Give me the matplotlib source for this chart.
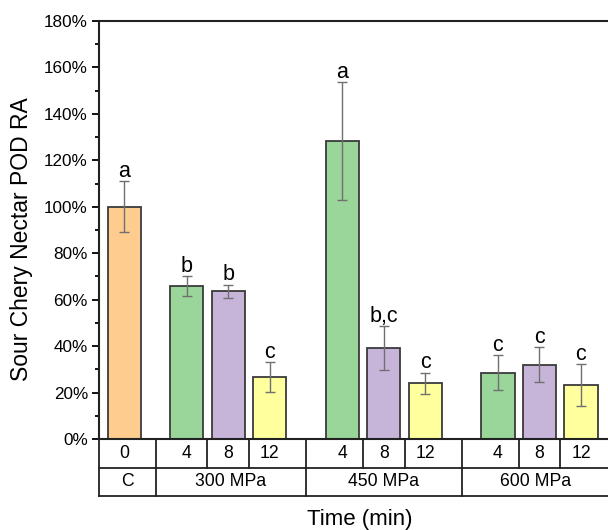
import matplotlib
matplotlib.use("Agg")
import matplotlib.pyplot as plt
from matplotlib.ticker import MultipleLocator, PercentFormatter
import numpy as np

plt.rcParams['font.family'] = ['Liberation Sans', 'DejaVu Sans']

# data
times = ["0", "4", "8", "12", "4", "8", "12", "4", "8", "12"]
groups = ["C", "300 MPa", "450 MPa", "600 MPa"]
group_sizes = [1, 3, 3, 3]
ra_values = [100.0, 65.9, 63.7, 26.7, 128.3, 39.2, 24.0, 28.6, 32.0, 23.1]
ra_errors = [11.0, 4.2, 2.8, 6.4, 25.3, 9.4, 4.6, 7.7, 7.5, 9.0]
letters = ["a", "b", "b", "c", "a", "b,c", "c", "c", "c", "c"]
time_colors = {"0": "#FFCC90", "4": "#9AD59A", "8": "#C6B5D8", "12": "#FFFF9E"}

# bar slots: control, then three groups of three
positions = np.array([0, 1.5, 2.5, 3.5, 5.25, 6.25, 7.25, 9, 10, 11])
xmin, xmax = -0.614, 11.7

fig = plt.figure(figsize=(6.08, 5.30), dpi=100)
ax = fig.add_axes([99 / 608, 1 - 439 / 530, 511 / 608, 418 / 530])

colors = [time_colors[t] for t in times]
ax.bar(positions, ra_values, width=0.8, color=colors, edgecolor="#3a3a3a",
       linewidth=1.3, zorder=2)
ax.errorbar(positions, ra_values, yerr=ra_errors, fmt="none", ecolor="#707070",
            elinewidth=1.0, capsize=3.6, capthick=1.0, zorder=3)

for x, v, e, lab in zip(positions, ra_values, ra_errors, letters):
    ax.annotate(lab, (x, v + e), xytext=(0, 3), textcoords="offset points",
                ha="center", va="baseline", fontsize=15.5)

ax.set_xlim(xmin, xmax)
ax.set_ylim(0, 180)
ax.yaxis.set_major_locator(MultipleLocator(20))
ax.yaxis.set_minor_locator(MultipleLocator(10))
ax.yaxis.set_major_formatter(PercentFormatter(decimals=0))
ax.tick_params(axis="y", which="major", length=5, width=1.3, labelsize=12.3, pad=3)
ax.tick_params(axis="y", which="minor", length=3, width=1.3)
ax.set_xticks([])
for side in ["left", "top", "bottom"]:
    ax.spines[side].set_linewidth(1.5)
    ax.spines[side].set_color("#222222")
ax.spines["right"].set_visible(False)

# two-row table under the axis
trans = ax.get_xaxis_transform()
row_h = 28.5 / 418
line_kw = dict(color="#222222", lw=1.3, transform=trans, clip_on=False)
bounds = (positions[:-1] + positions[1:]) / 2
for y in [-row_h, -2 * row_h]:
    ax.plot([xmin, xmax], [y, y], **line_kw)
ax.plot([xmin, xmin], [0, -2 * row_h], **line_kw)
for b in bounds:
    ax.plot([b, b], [0, -row_h], **line_kw)
ends = np.cumsum(group_sizes)
group_bounds = [bounds[e - 1] for e in ends[:-1]]
for b in group_bounds:
    ax.plot([b, b], [-row_h, -2 * row_h], **line_kw)

for x, t in zip(positions, times):
    ax.text(x, -row_h / 2, t, transform=trans, ha="center", va="center", fontsize=12.7)
edges = [xmin] + group_bounds + [xmax]
for i, g in enumerate(groups):
    ax.text((edges[i] + edges[i + 1]) / 2, -1.5 * row_h, g, transform=trans,
            ha="center", va="center", fontsize=12.7)

fig.text(22 / 608, 1 - 239 / 530, "Sour Chery Nectar POD RA", rotation=90,
         ha="center", va="center", fontsize=16.5)
fig.text(360 / 608, 1 - 520 / 530, "Time (min)", ha="center", va="center", fontsize=16)

fig.savefig("out.png", dpi=100)
